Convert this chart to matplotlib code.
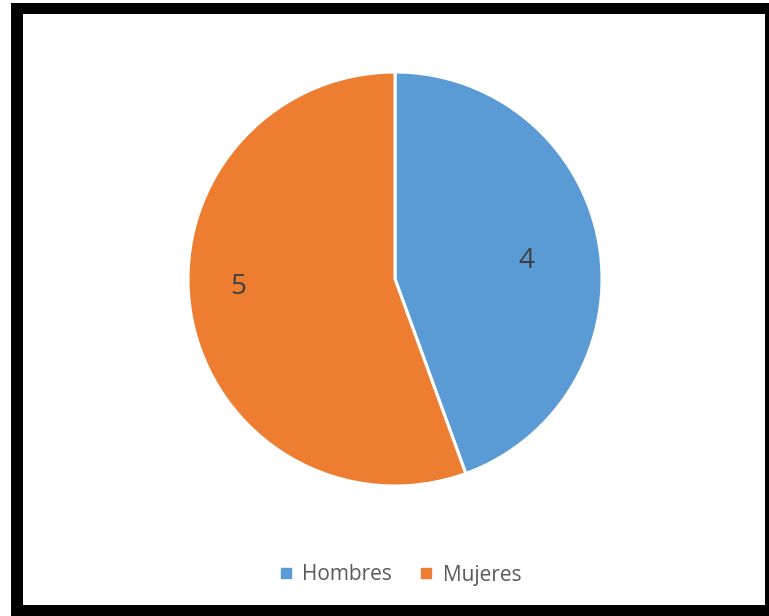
import matplotlib
matplotlib.use("Agg")
import matplotlib.pyplot as plt
import numpy as np
from matplotlib.patches import Rectangle
from matplotlib.lines import Line2D

categories = ["Hombres", "Mujeres"]
values = [4, 5]
colors = ["#5B9BD5", "#ED7D31"]

W, H = 769, 616
fig = plt.figure(figsize=(W / 100, H / 100), dpi=100)
fig.patch.set_facecolor("white")

# black frame around the chart area
fig.patches.append(Rectangle((11 / W, 0), 1 - 11 / W, 1 - 3 / H,
                             transform=fig.transFigure, facecolor="black",
                             edgecolor="none", zorder=-2))
fig.patches.append(Rectangle((23 / W, 11 / H), (765 - 23) / W, (602 - 11) / H,
                             transform=fig.transFigure, facecolor="white",
                             edgecolor="none", zorder=-1))

cx, cy, r = 395, 279, 207
ax = fig.add_axes([(cx - r) / W, 1 - (cy + r) / H, 2 * r / W, 2 * r / H])
ax.set_zorder(1)

wedges, texts, autotexts = ax.pie(
    values, colors=colors, startangle=90, counterclock=False,
    autopct=lambda p: "{:.0f}".format(p * sum(values) / 100),
    pctdistance=0.68,
    wedgeprops=dict(edgecolor="white", linewidth=2.2),
    textprops=dict(fontsize=20, color="#404040", family="Open Sans"))

# Excel-like label placement: closer to the centre for the small slice
for w, t, dist, shift in zip(wedges, autotexts, [0.64, 0.76], [-2, -7]):
    ang = np.deg2rad((w.theta1 + w.theta2) / 2 + shift)
    t.set_position((dist * np.cos(ang), dist * np.sin(ang)))

ax.set_xlim(-1, 1)
ax.set_ylim(-1, 1)
ax.set_aspect("equal")
ax.axis("off")

handles = [Line2D([0], [0], marker="s", linestyle="none", markersize=7,
                  markerfacecolor=c, markeredgecolor=c) for c in colors]
leg = fig.legend(handles, categories, loc="center", bbox_to_anchor=(400 / W, 1 - 575 / H),
                 ncol=2, frameon=False, handlelength=0.7, handletextpad=0.45,
                 columnspacing=1.3, prop=dict(family="Open Sans", size=15),
                 labelcolor="#595959")
leg.set_zorder(2)

fig.savefig("out.png", dpi=100, facecolor="white")
